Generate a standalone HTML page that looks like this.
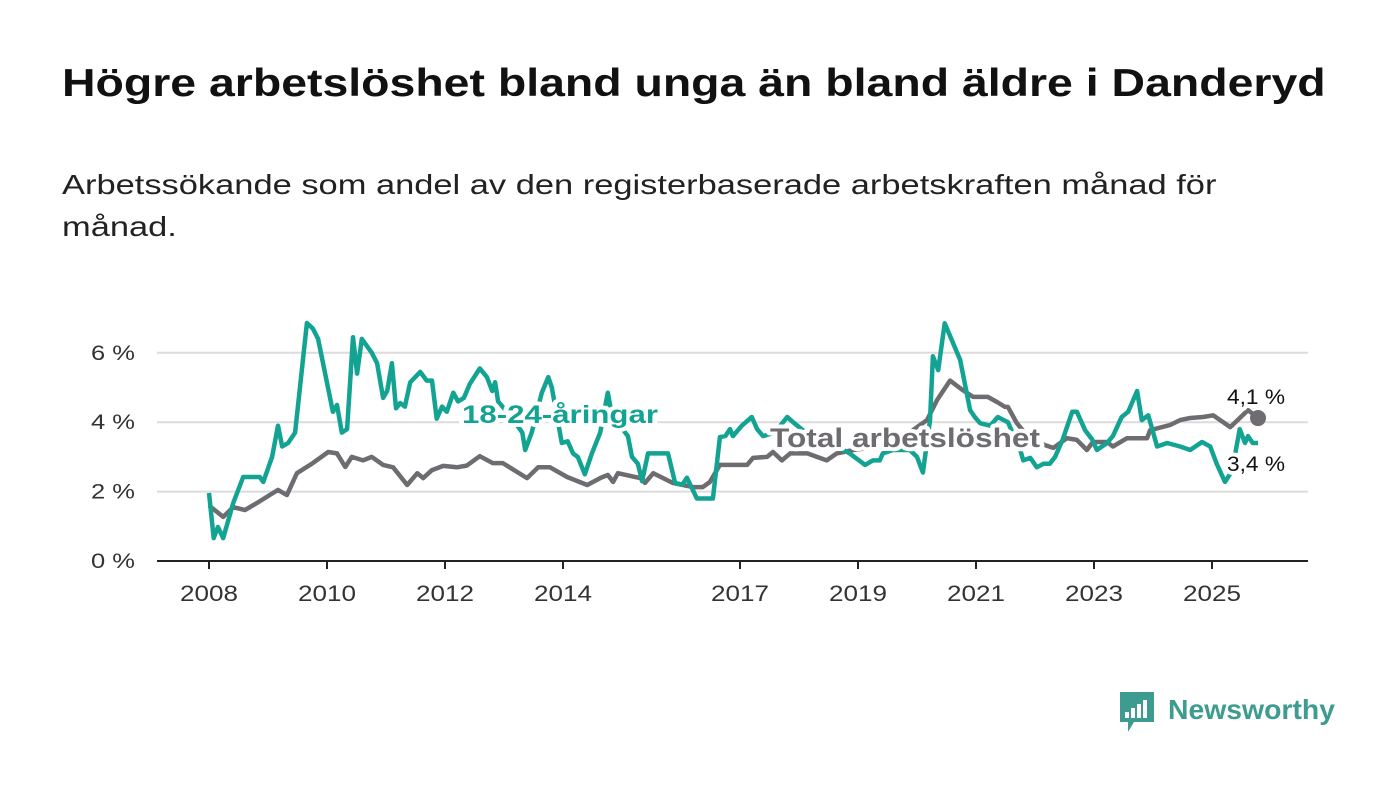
<!DOCTYPE html>
<html><head><meta charset="utf-8"><style>
body{margin:0;background:#fff;width:1400px;height:794px;overflow:hidden;font-family:"Liberation Sans",sans-serif}
#title{position:absolute;left:62px;top:62px;font-size:39px;font-weight:bold;color:#111;margin:0;white-space:nowrap;transform:scaleX(1.19);transform-origin:0 0}
#sub{position:absolute;left:62px;top:164px;font-size:28px;line-height:42px;color:#222;margin:0;white-space:nowrap;transform:scaleX(1.23);transform-origin:0 0}
svg{position:absolute;left:0;top:0}
</style></head><body>
<h1 id="title">Högre arbetslöshet bland unga än bland äldre i Danderyd</h1>
<p id="sub">Arbetssökande som andel av den registerbaserade arbetskraften månad för<br>månad.</p>
<svg id="chart" width="1400" height="794"></svg>
<script>
const yTicks=[0,2,4,6];
const yTickLabels=["0 %","2 %","4 %","6 %"];
const xTicks=[2008,2010,2012,2014,2017,2019,2021,2023,2025];
const youthDates=[2008.0,2008.08,2008.15,2008.24,2008.41,2008.58,2008.86,2008.92,2009.07,2009.17,2009.24,2009.34,2009.46,2009.66,2009.76,2009.85,2010.10,2010.17,2010.25,2010.34,2010.44,2010.51,2010.59,2010.76,2010.85,2010.95,2011.02,2011.10,2011.17,2011.24,2011.32,2011.41,2011.58,2011.69,2011.78,2011.86,2011.95,2012.03,2012.14,2012.22,2012.32,2012.42,2012.59,2012.71,2012.80,2012.85,2012.90,2013.10,2013.31,2013.36,2013.47,2013.64,2013.75,2013.81,2013.98,2014.08,2014.17,2014.25,2014.37,2014.49,2014.63,2014.76,2014.83,2015.10,2015.17,2015.27,2015.34,2015.44,2015.78,2015.90,2016.02,2016.10,2016.27,2016.54,2016.66,2016.75,2016.83,2016.88,2017.03,2017.20,2017.29,2017.39,2017.59,2017.80,2017.90,2018.19,2018.53,2018.86,2019.12,2019.25,2019.37,2019.42,2019.59,2019.88,2020.0,2020.10,2020.22,2020.27,2020.36,2020.47,2020.73,2020.90,2020.98,2021.07,2021.24,2021.37,2021.54,2021.75,2021.80,2021.92,2022.03,2022.14,2022.25,2022.34,2022.47,2022.63,2022.71,2022.85,2022.97,2023.05,2023.22,2023.32,2023.47,2023.58,2023.73,2023.81,2023.92,2024.07,2024.24,2024.46,2024.63,2024.83,2024.97,2025.08,2025.22,2025.34,2025.47,2025.56,2025.61,2025.69,2025.78];
const youthValues=[1.96,0.66,0.98,0.66,1.67,2.42,2.42,2.28,3.0,3.9,3.3,3.4,3.7,6.86,6.7,6.4,4.3,4.5,3.7,3.8,6.45,5.4,6.4,6.0,5.7,4.7,4.9,5.7,4.4,4.55,4.45,5.15,5.45,5.2,5.2,4.1,4.45,4.3,4.85,4.6,4.7,5.1,5.55,5.3,4.9,5.15,4.6,4.2,3.7,3.2,3.7,4.85,5.3,5.0,3.4,3.45,3.1,3.0,2.5,3.1,3.7,4.85,4.2,3.6,3.0,2.8,2.3,3.1,3.1,2.25,2.2,2.4,1.8,1.8,3.57,3.6,3.8,3.6,3.9,4.15,3.8,3.6,3.7,4.15,4.0,3.6,3.4,3.1,2.77,2.9,2.9,3.1,3.2,3.2,3.0,2.55,4.05,5.9,5.5,6.85,5.8,4.35,4.15,3.97,3.9,4.15,4.0,3.2,2.9,2.97,2.7,2.8,2.8,3.0,3.5,4.3,4.3,3.77,3.5,3.2,3.4,3.6,4.15,4.3,4.9,4.06,4.2,3.3,3.4,3.3,3.2,3.43,3.3,2.8,2.28,2.6,3.8,3.4,3.6,3.4,3.4];
const totalDates=[2008.0,2008.24,2008.41,2008.61,2008.81,2009.17,2009.32,2009.49,2009.76,2010.02,2010.17,2010.31,2010.42,2010.61,2010.76,2010.95,2011.12,2011.36,2011.53,2011.63,2011.78,2011.97,2012.20,2012.37,2012.59,2012.81,2012.98,2013.39,2013.58,2013.78,2014.07,2014.41,2014.63,2014.76,2014.85,2014.93,2015.31,2015.39,2015.53,2015.86,2016.20,2016.37,2016.49,2016.66,2017.12,2017.22,2017.46,2017.56,2017.71,2017.85,2018.14,2018.47,2018.64,2018.92,2019.37,2019.71,2020.17,2020.34,2020.56,2020.78,2020.95,2021.20,2021.36,2021.49,2021.54,2021.69,2021.92,2022.17,2022.31,2022.54,2022.71,2022.88,2022.98,2023.22,2023.32,2023.56,2023.90,2023.95,2024.29,2024.46,2024.63,2024.85,2025.02,2025.31,2025.61,2025.78];
const totalValues=[1.6,1.27,1.55,1.47,1.67,2.05,1.9,2.53,2.82,3.14,3.1,2.71,3.0,2.9,3.0,2.77,2.7,2.19,2.53,2.39,2.62,2.74,2.7,2.75,3.02,2.82,2.82,2.39,2.7,2.7,2.42,2.19,2.39,2.48,2.28,2.53,2.39,2.25,2.53,2.25,2.13,2.13,2.28,2.77,2.77,2.97,3.0,3.14,2.9,3.1,3.1,2.9,3.1,3.2,3.3,3.5,4.06,4.64,5.2,4.92,4.73,4.73,4.58,4.44,4.44,3.98,3.5,3.34,3.26,3.54,3.49,3.2,3.43,3.43,3.3,3.54,3.54,3.77,3.92,4.06,4.12,4.15,4.2,3.86,4.35,4.12];
const lastLabels=["4,1 %","3,4 %"];

const NS="http://www.w3.org/2000/svg";
const svg=document.getElementById('chart');
const X=t=>209+(t-2008)*59;
const Y=v=>561-v*34.7;
function el(tag,attrs,parent){const e=document.createElementNS(NS,tag);for(const k in attrs)e.setAttribute(k,attrs[k]);(parent||svg).appendChild(e);return e;}

yTicks.forEach((v,i)=>{
  if(v>0){const g=el('line',{x1:157,x2:1308,y1:Y(v),y2:Y(v),stroke:'#dcdcdc','stroke-width':2});
  
  }
  const t=el('text',{x:135,y:Y(v)+7,'text-anchor':'end','font-size':21,fill:'#333',textLength:44,lengthAdjust:'spacingAndGlyphs'});
  t.textContent=yTickLabels[i];
  
  
});
const ax=el('line',{x1:157,x2:1308,y1:561,y2:561,stroke:'#222','stroke-width':2});


xTicks.forEach(yr=>{
  const tk=el('line',{x1:X(yr),x2:X(yr),y1:561,y2:569,stroke:'#222','stroke-width':2});
  
  
  const t=el('text',{x:X(yr),y:601,'text-anchor':'middle','font-size':22,fill:'#333',textLength:58,lengthAdjust:'spacingAndGlyphs'});
  t.textContent=yr;
  
  
});
function path(d,v){return d.map((t,i)=>(i?'L':'M')+X(t).toFixed(1)+','+Y(v[i]).toFixed(1)).join('');}
const lt=el('path',{d:path(totalDates,totalValues),fill:'none',stroke:'#6e6c70','stroke-width':4.5,'stroke-linejoin':'round'});


const ly=el('path',{d:path(youthDates,youthValues),fill:'none',stroke:'#12a393','stroke-width':4.5,'stroke-linejoin':'round'});


const n=totalDates.length-1;
const dot=el('circle',{cx:X(totalDates[n]),cy:Y(totalValues[n]),r:8,fill:'#6e6c70'});


const halo={'paint-order':'stroke',stroke:'#fff','stroke-width':8,'stroke-linejoin':'round',lengthAdjust:'spacingAndGlyphs'};
const l1=el('text',Object.assign({x:1256,y:Y(totalValues[n])-14,'font-size':21,fill:'#111','text-anchor':'middle',textLength:58},halo));
l1.textContent=lastLabels[0];


const m=youthValues.length-1;
const l2=el('text',Object.assign({x:1256,y:Y(youthValues[m])+28,'font-size':21,fill:'#111','text-anchor':'middle',textLength:58},halo));
l2.textContent=lastLabels[1];


const s1=el('text',Object.assign({x:462,y:423,'font-size':25,'font-weight':'bold',fill:'#12a393',textLength:196},halo));
s1.textContent='18-24-åringar';


const s2=el('text',Object.assign({x:770,y:447,'font-size':27,'font-weight':'bold',fill:'#6e6c70',textLength:270},halo));
s2.textContent='Total arbetslöshet';


// logo
const lg=el('g',{});


el('path',{d:'M1120,692 h34 v30 h-20 l-6,10 v-10 h-8 z',fill:'#3d9c8f'},lg);
[[1125,712,4,6],[1131,708,4,10],[1137,704,4,14],[1143,700,4,18]].forEach(b=>el('rect',{x:b[0],y:b[1],width:b[2],height:b[3],fill:'#fff'},lg));
const lt2=el('text',{x:1168,y:719,'font-size':28,'font-weight':'bold',fill:'#3d9c8f',textLength:167,lengthAdjust:'spacingAndGlyphs'},lg);
lt2.textContent='Newsworthy';
</script>
</body></html>
